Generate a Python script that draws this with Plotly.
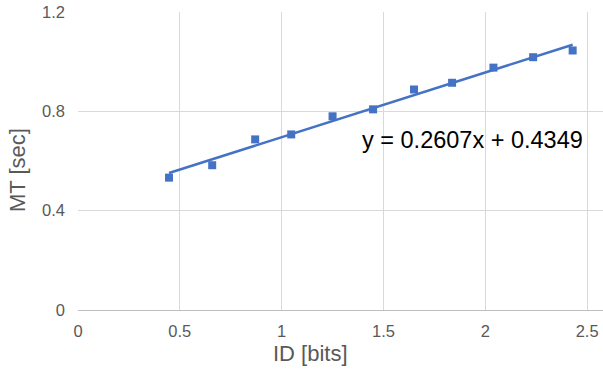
import plotly.graph_objects as go

id_bits = [0.447, 0.659, 0.870, 1.047, 1.250, 1.449, 1.650, 1.837, 2.040, 2.235, 2.429]
mt_sec = [0.533, 0.583, 0.687, 0.707, 0.780, 0.808, 0.888, 0.915, 0.976, 1.018, 1.045]
slope = 0.2607
intercept = 0.4349
x_ticks = [0, 0.5, 1, 1.5, 2, 2.5]
x_tick_labels = ["0", "0.5", "1", "1.5", "2", "2.5"]
y_ticks = [0, 0.4, 0.8, 1.2]
y_tick_labels = ["0", "0.4", "0.8", "1.2"]

blue = "#4472C4"
gray = "#595959"
font = "Liberation Sans, Arial, Helvetica, sans-serif"

trend_x = [min(id_bits), max(id_bits)]
trend_y = [slope * v + intercept for v in trend_x]

fig = go.Figure()
fig.add_trace(go.Scatter(x=trend_x, y=trend_y, mode="lines",
                         line=dict(color=blue, width=2.5), hoverinfo="skip"))
fig.add_trace(go.Scatter(x=id_bits, y=mt_sec, mode="markers",
                         marker=dict(symbol="square", size=8, color=blue)))

fig.add_annotation(x=1.937, y=0.683, xref="x", yref="y",
                   text=f"y = {slope}x + {intercept}", showarrow=False,
                   font=dict(family=font, size=23.5, color="#000000"))

# axis titles
fig.add_annotation(x=-0.1143, y=0.4698, xref="paper", yref="paper",
                   text="MT [sec]", showarrow=False, textangle=-90,
                   xanchor="center", yanchor="middle",
                   font=dict(family=font, size=22, color=gray))
fig.add_annotation(x=0.4438, y=-0.1443, xref="paper", yref="paper",
                   text="ID [bits]", showarrow=False,
                   xanchor="center", yanchor="middle", borderpad=0,
                   font=dict(family=font, size=22, color=gray))

fig.update_layout(
    width=603, height=373,
    margin=dict(l=78, r=0, t=12, b=63, autoexpand=False),
    paper_bgcolor="white", plot_bgcolor="white",
    showlegend=False,
    font=dict(family=font, color=gray),
)
fig.update_xaxes(range=[0, 2.578], tickvals=x_ticks, ticktext=x_tick_labels,
                 showgrid=True, gridcolor="#d9d9d9", gridwidth=1,
                 showline=True, linecolor="#bfbfbf", linewidth=1,
                 zeroline=False, ticks="", ticklabelstandoff=6, automargin=False,
                 tickfont=dict(size=16.5, color=gray))
fig.update_yaxes(range=[0, 1.2], tickvals=y_ticks, ticktext=y_tick_labels,
                 showgrid=True, gridcolor="#d9d9d9", gridwidth=1,
                 showline=False, zeroline=False, ticks="", ticklabelstandoff=12,
                 automargin=False,
                 tickfont=dict(size=16.5, color=gray))

fig.write_html("out.html", config={"displayModeBar": False},
               post_script="document.body.style.margin='0';document.body.style.padding='0';document.body.style.overflow='hidden';")
